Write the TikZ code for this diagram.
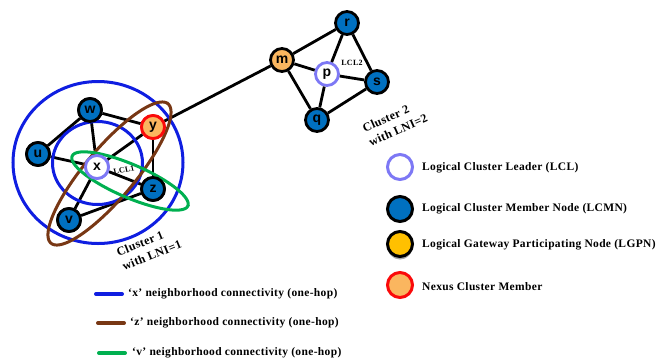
\documentclass[tikz,border=0pt]{standalone}
\usepackage{fontspec}
\setmainfont{Liberation Serif}
\newfontfamily\nodefont{Liberation Sans}
\newfontfamily\legfont[LetterSpace=3]{Liberation Serif}
\usetikzlibrary{shadows}
\definecolor{nodeblue}{RGB}{0,112,192}
\definecolor{lclc}{RGB}{125,120,245}
\definecolor{nexusfill}{RGB}{250,182,95}
\definecolor{goldc}{RGB}{255,192,0}
\definecolor{cblue}{RGB}{15,30,225}
\definecolor{cbrown}{RGB}{120,55,20}
\definecolor{cgreen}{RGB}{0,176,80}
\definecolor{nexred}{RGB}{250,10,10}
\tikzset{
  nd/.style={circle, minimum size=23pt, inner sep=0pt, line width=2.8pt,
    font=\nodefont\bfseries\fontsize{14}{14}\selectfont},
  member/.style={nd, draw=black, fill=nodeblue},
  leader/.style={nd, draw=lclc, fill=white},
  gateway/.style={nd, draw=black, fill=nexusfill},
  nexus/.style={nd, draw=nexred, fill=nexusfill},
  edge/.style={line width=2.8pt, black},
  ring/.style={line width=3pt},
  legnd/.style={circle, minimum size=25pt, inner sep=0pt, line width=3pt},
  legtxt/.style={anchor=west, inner sep=0pt, font=\legfont\bfseries\fontsize{11.5}{13}\selectfont},
  lbl/.style={inner sep=0pt, font=\legfont\bfseries\fontsize{8}{9}\selectfont},
  clbl/.style={inner sep=0pt, align=left, font=\legfont\bfseries\fontsize{12}{15.5}\selectfont},
  legline/.style={line width=4pt, line cap=round}
}
\begin{document}
\begin{tikzpicture}[x=1pt,y=-1pt]
\useasboundingbox (0,0) rectangle (662,360);
% cluster 1 nodes
\node[member] (w) at (90,110) {w};
\node[nexus] (y) at (153,127) {y};
\node[member] (u) at (38,154) {u};
\node[leader] (x) at (97,167) {x};
\node[member] (z) at (153,189) {z};
\node[member] (v) at (69,220) {v};
% cluster 2 nodes
\node[gateway] (m) at (282,60) {m};
\node[member] (r) at (347,23) {r};
\node[leader] (p) at (327,74) {p};
\node[member] (s) at (377,82) {s};
\node[member] (q) at (317,120) {q};
% edges
\draw[edge] (w) -- (y);
\draw[edge] (w) -- (u);
\draw[edge] (w) -- (x);
\draw[edge] (u) -- (x);
\draw[edge] (x) -- (y);
\draw[edge] (x) -- (z);
\draw[edge] (x) -- (v);
\draw[edge] (y) -- (z);
\draw[edge] (v) -- (z);
\draw[edge] (y) -- (m);
\draw[edge] (m) -- (r);
\draw[edge] (m) -- (p);
\draw[edge] (m) -- (q);
\draw[edge] (r) -- (p);
\draw[edge] (r) -- (s);
\draw[edge] (p) -- (s);
\draw[edge] (p) -- (q);
\draw[edge] (q) -- (s);
% neighbourhood rings
\draw[ring, cblue] (98,162.5) ellipse[x radius=85, y radius=81];
\draw[ring, cblue] (97.5,163) ellipse[x radius=45, y radius=41.5];
\draw[ring, cbrown] plot[domain=0:360, samples=120, smooth cycle, variable=\t]
  ({109.5 + 91*cos(\t)*cos(-50) - 25*sin(\t)*sin(-50)},
   {173.5 + 91*cos(\t)*sin(-50) + 25*sin(\t)*cos(-50)});
\draw[ring, cgreen] plot[domain=0:360, samples=120, smooth cycle, variable=\t]
  ({130 + 63*cos(\t)*cos(23.3) - 16.5*sin(\t)*sin(23.3)},
   {181 + 63*cos(\t)*sin(23.3) + 16.5*sin(\t)*cos(23.3)});
% redraw nodes on top
\node[member] at (w) {w};
\node[nexus] at (y) {y};
\node[member] at (u) {u};
\node[leader] at (x) {x};
\node[member] at (z) {z};
\node[member] at (v) {v};
% labels
\node[lbl, rotate=12] (lcl1) at (124,170) {LCL1};
\node[lbl] (lcl2) at (352,63) {LCL2};
\node[clbl, rotate=22] (c1) at (149,248) {Cluster 1\\with LNI=1};
\node[clbl, rotate=24] (c2) at (395,123) {Cluster 2\\with LNI=2};
% right legend
\node[legnd, draw=lclc, fill=white] (l1) at (400,167) {};
\node[legnd, draw=black, fill=nodeblue] (l2) at (400,209) {};
\node[legnd, draw=black, fill=goldc, drop shadow={shadow xshift=0pt, shadow yshift=-3pt, opacity=0.7}] (l3) at (400,244) {};
\node[legnd, draw=nexred, fill=nexusfill] (l4) at (400,285) {};
\node[legtxt] (t1) at (422,168) {Logical Cluster Leader (LCL)};
\node[legtxt] (t2) at (422,209) {Logical Cluster Member Node (LCMN)};
\node[legtxt] (t3) at (422,245) {Logical Gateway Participating Node (LGPN)};
\node[legtxt] (t4) at (422,287) {Nexus Cluster Member};
% bottom legend
\coordinate (b1a) at (96,294); \coordinate (b1b) at (122,294);
\coordinate (b2a) at (98,323); \coordinate (b2b) at (124,323);
\coordinate (b3a) at (99,353); \coordinate (b3b) at (125,353);
\draw[legline, cblue] (b1a) -- (b1b);
\draw[legline, cbrown] (b2a) -- (b2b);
\draw[legline, cgreen] (b3a) -- (b3b);
\node[legtxt] (bt1) at (128,294) {‘x’ neighborhood connectivity (one-hop)};
\node[legtxt] (bt2) at (130,323) {‘z’ neighborhood connectivity (one-hop)};
\node[legtxt] (bt3) at (132,353) {‘v’ neighborhood connectivity (one-hop)};
\end{tikzpicture}
\end{document}
